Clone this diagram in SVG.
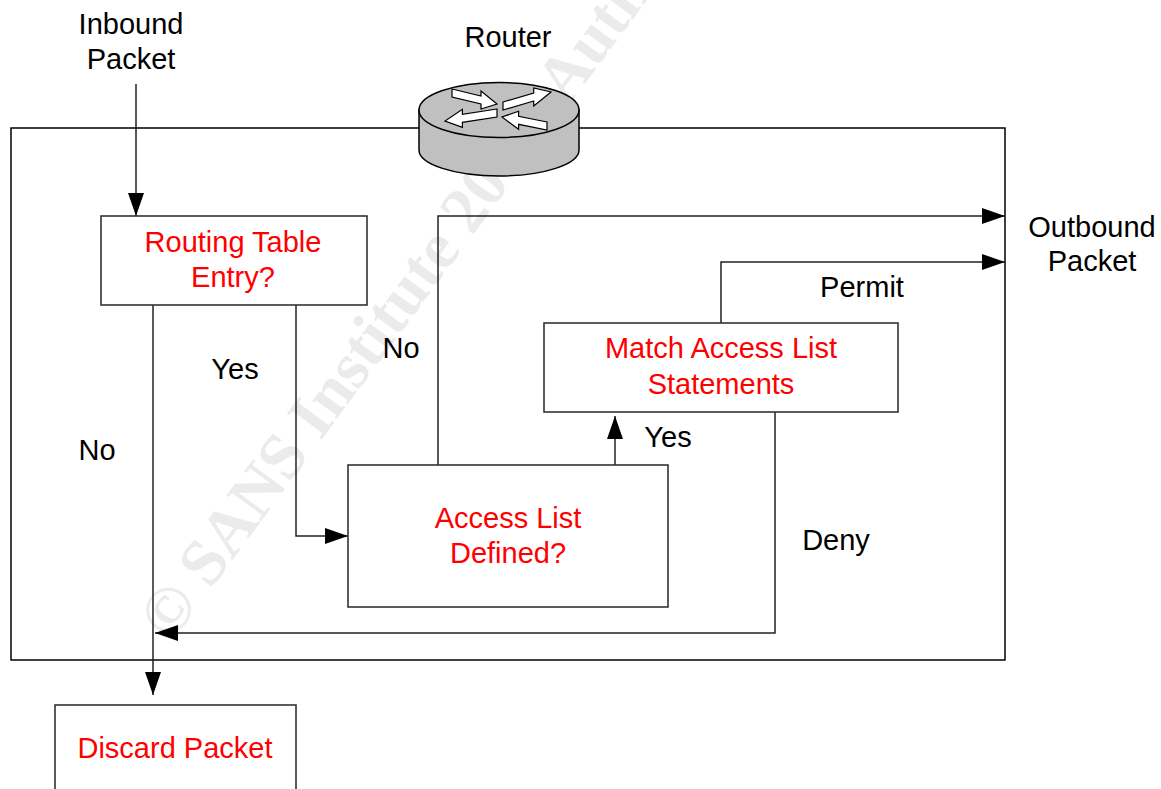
<svg xmlns="http://www.w3.org/2000/svg" width="1161" height="789" viewBox="0 0 1161 789">
<style>
.lbl{font-family:"Liberation Sans",Arial,sans-serif;font-size:29px;fill:#000;text-anchor:middle}
.red{fill:#ff0000}
.box{fill:#fff;stroke:#333;stroke-width:1.6}
.conn{fill:none;stroke:#222;stroke-width:1.5}
.wm{font-family:"Liberation Serif","Times New Roman",serif;font-size:66px;font-weight:bold;fill:#ebebeb}
.rarrow{fill:#fff;stroke:#000;stroke-width:1.2;stroke-linejoin:miter}
</style>
<defs>
<marker id="ah" markerUnits="userSpaceOnUse" markerWidth="23" markerHeight="16" refX="23" refY="8" orient="auto">
<path d="M0,0 L23,8 L0,16 Z" fill="#000"/>
</marker>
</defs>
<rect width="1161" height="789" fill="#fff"/>
<g id="watermark">
<text class="wm" x="171" y="643" transform="rotate(-53.5 171 643)">© SANS Institute 2003, Author retains full rights</text>
</g>
<g id="frame">
<rect x="11" y="128" width="994" height="532" fill="none" stroke="#000" stroke-width="1.5"/>
</g>
<g id="router">
<path d="M419,110 L419,150 A80,26 0 0 0 579,150 L579,110 Z" fill="#c0c0c0" stroke="#000" stroke-width="1.5"/>
<ellipse cx="499" cy="110" rx="80" ry="27.5" fill="#c0c0c0" stroke="#000" stroke-width="1.5"/>
<polygon class="rarrow" points="452,89 481,96 481,91 497,104 481,109 481,104 452,97"/>
<polygon class="rarrow" points="503,102 533.7,93 533.7,88 551,92 533.7,106 533.7,101 503,110"/>
<polygon class="rarrow" points="497,109 462.4,114.3 462.4,109.3 445,121 462.4,127.3 462.4,122.3 497,117"/>
<polygon class="rarrow" points="547,122 518.6,116.3 518.6,111.3 502,117 518.6,129.3 518.6,124.3 547,130"/>
<text class="lbl" x="508" y="47">Router</text>
</g>
<g id="connectors">
<line class="conn" x1="136" y1="84" x2="136" y2="216" marker-end="url(#ah)"/>
<line class="conn" x1="153" y1="305" x2="153" y2="695" marker-end="url(#ah)"/>
<polyline class="conn" points="296,305 296,536 348,536" marker-end="url(#ah)"/>
<polyline class="conn" points="438,465 438,216 1005,216" marker-end="url(#ah)"/>
<line class="conn" x1="615" y1="465" x2="615" y2="416" marker-end="url(#ah)"/>
<polyline class="conn" points="721,323 721,262 1005,262" marker-end="url(#ah)"/>
<polyline class="conn" points="775,412 775,633 155,633" marker-end="url(#ah)"/>
</g>
<g id="node-routing">
<rect class="box" x="101" y="216" width="266" height="89"/>
<text class="lbl red" x="233" y="252">Routing Table</text>
<text class="lbl red" x="233" y="287">Entry?</text>
</g>
<g id="node-access">
<rect class="box" x="348" y="465" width="320" height="142"/>
<text class="lbl red" x="508" y="528">Access List</text>
<text class="lbl red" x="508" y="563">Defined?</text>
</g>
<g id="node-match">
<rect class="box" x="544" y="323" width="354" height="89"/>
<text class="lbl red" x="721" y="358">Match Access List</text>
<text class="lbl red" x="721" y="394">Statements</text>
</g>
<g id="node-discard">
<rect class="box" x="55" y="705" width="241" height="100"/>
<text class="lbl red" x="175" y="758">Discard Packet</text>
</g>
<g id="labels">
<text class="lbl" x="131" y="34">Inbound</text>
<text class="lbl" x="131" y="69">Packet</text>
<text class="lbl" x="1092" y="237">Outbound</text>
<text class="lbl" x="1092" y="271">Packet</text>
<text class="lbl" x="235" y="379">Yes</text>
<text class="lbl" x="97" y="460">No</text>
<text class="lbl" x="401" y="358">No</text>
<text class="lbl" x="668" y="447">Yes</text>
<text class="lbl" x="862" y="297">Permit</text>
<text class="lbl" x="836" y="550">Deny</text>
</g>
</svg>
